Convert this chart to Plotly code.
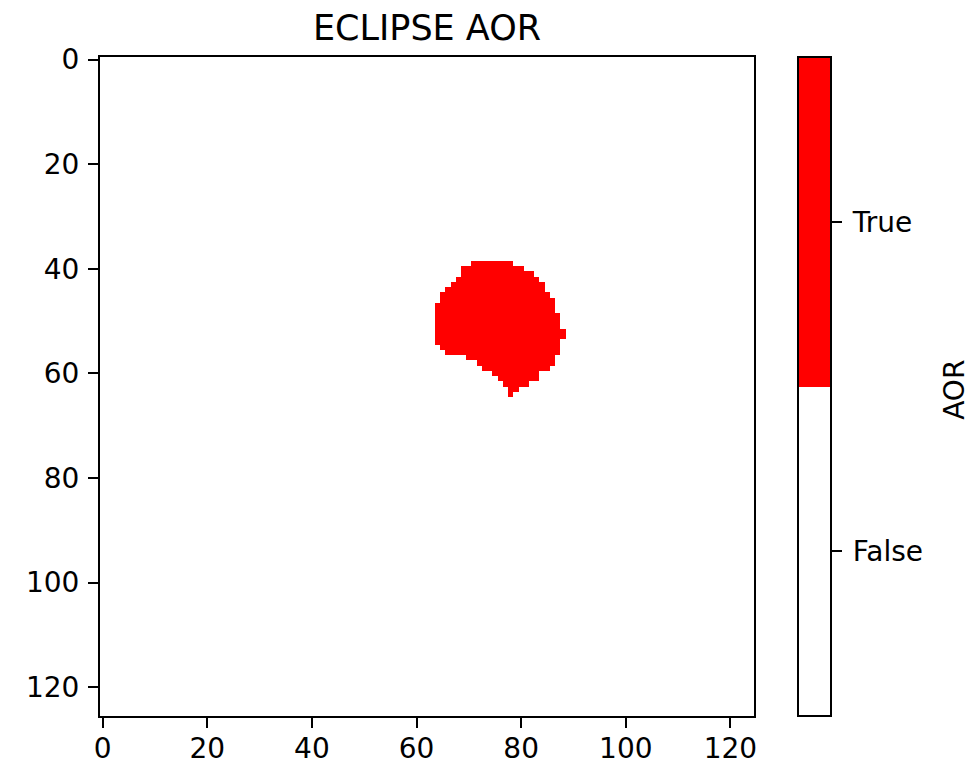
import numpy as np
import plotly.graph_objects as go

# Grid size of the AOR mask (rows x columns)
n_rows = 126
n_cols = 125

# Region of the AOR: for each row, the first and last column flagged True
aor_rows = [39, 40, 41, 42, 43, 44, 45, 46, 47, 48, 49, 50, 51,
            52, 53, 54, 55, 56, 57, 58, 59, 60, 61, 62, 63, 64]
aor_first_col = [71, 69, 69, 68, 67, 66, 65, 65, 64, 64, 64, 64, 64,
                 64, 64, 64, 65, 66, 70, 72, 73, 75, 76, 77, 78, 78]
aor_last_col = [78, 80, 82, 83, 84, 84, 85, 86, 86, 86, 87, 87, 87,
                88, 88, 87, 87, 87, 86, 86, 85, 83, 83, 81, 79, 78]

# Colour bar labels
class_labels = ["False", "True"]
class_values = [0.25, 0.75]

mask = np.zeros((n_rows, n_cols), dtype=int)
for r, c0, c1 in zip(aor_rows, aor_first_col, aor_last_col):
    mask[r, c0:c1 + 1] = 1

FONT = "DejaVu Sans"
TICK_SIZE = 28

fig = go.Figure(
    go.Heatmap(
        z=mask,
        x=np.arange(n_cols),
        y=np.arange(n_rows),
        zmin=0,
        zmax=1,
        colorscale=[[0, "#ffffff"], [0.5, "#ffffff"], [0.5, "#ff0000"], [1, "#ff0000"]],
        hoverinfo="skip",
        colorbar=dict(
            x=(798 - 100) / 654,
            xanchor="left",
            xpad=0,
            ypad=0,
            y=0.5,
            yanchor="middle",
            len=1,
            lenmode="fraction",
            thickness=33,
            thicknessmode="pixels",
            outlinecolor="black",
            outlinewidth=2,
            tickmode="array",
            tickvals=class_values,
            ticktext=["\u2009" + t for t in class_labels],
            ticks="outside",
            ticklen=10,
            tickwidth=2,
            tickcolor="black",
            tickfont=dict(family=FONT, size=TICK_SIZE, color="black"),
        ),
    )
)

axis_common = dict(
    showline=True,
    mirror=True,
    linecolor="black",
    linewidth=2,
    ticks="outside",
    ticklen=10,
    tickwidth=2,
    tickcolor="black",
    showgrid=False,
    zeroline=False,
    automargin=False,
    tickmode="array",
    tickvals=[0, 20, 40, 60, 80, 100, 120],
    tickfont=dict(family=FONT, size=TICK_SIZE, color="black"),
)

fig.update_xaxes(range=[-0.5, n_cols - 0.5], ticklabelstandoff=-4, **axis_common)
fig.update_yaxes(range=[n_rows - 0.5, -0.5], ticklabelstandoff=3, **axis_common)

fig.update_layout(
    width=975,
    height=765,
    margin=dict(l=100, r=975 - 754, t=57, b=765 - 716, autoexpand=False),
    paper_bgcolor="white",
    plot_bgcolor="white",
    font=dict(family=FONT, color="black"),
    title=dict(
        text="ECLIPSE AOR",
        x=(100 + 754) / 2 / 975,
        xanchor="center",
        xref="container",
        y=1 - 28 / 765,
        yanchor="middle",
        yref="container",
        font=dict(family=FONT, size=35, color="black"),
    ),
    annotations=[
        dict(
            text="AOR",
            xref="paper",
            yref="paper",
            x=(955 - 100) / 654,
            y=0.495,
            xanchor="center",
            yanchor="middle",
            showarrow=False,
            textangle=-90,
            font=dict(family=FONT, size=TICK_SIZE, color="black"),
        )
    ],
)

fig.write_html("out.html")
